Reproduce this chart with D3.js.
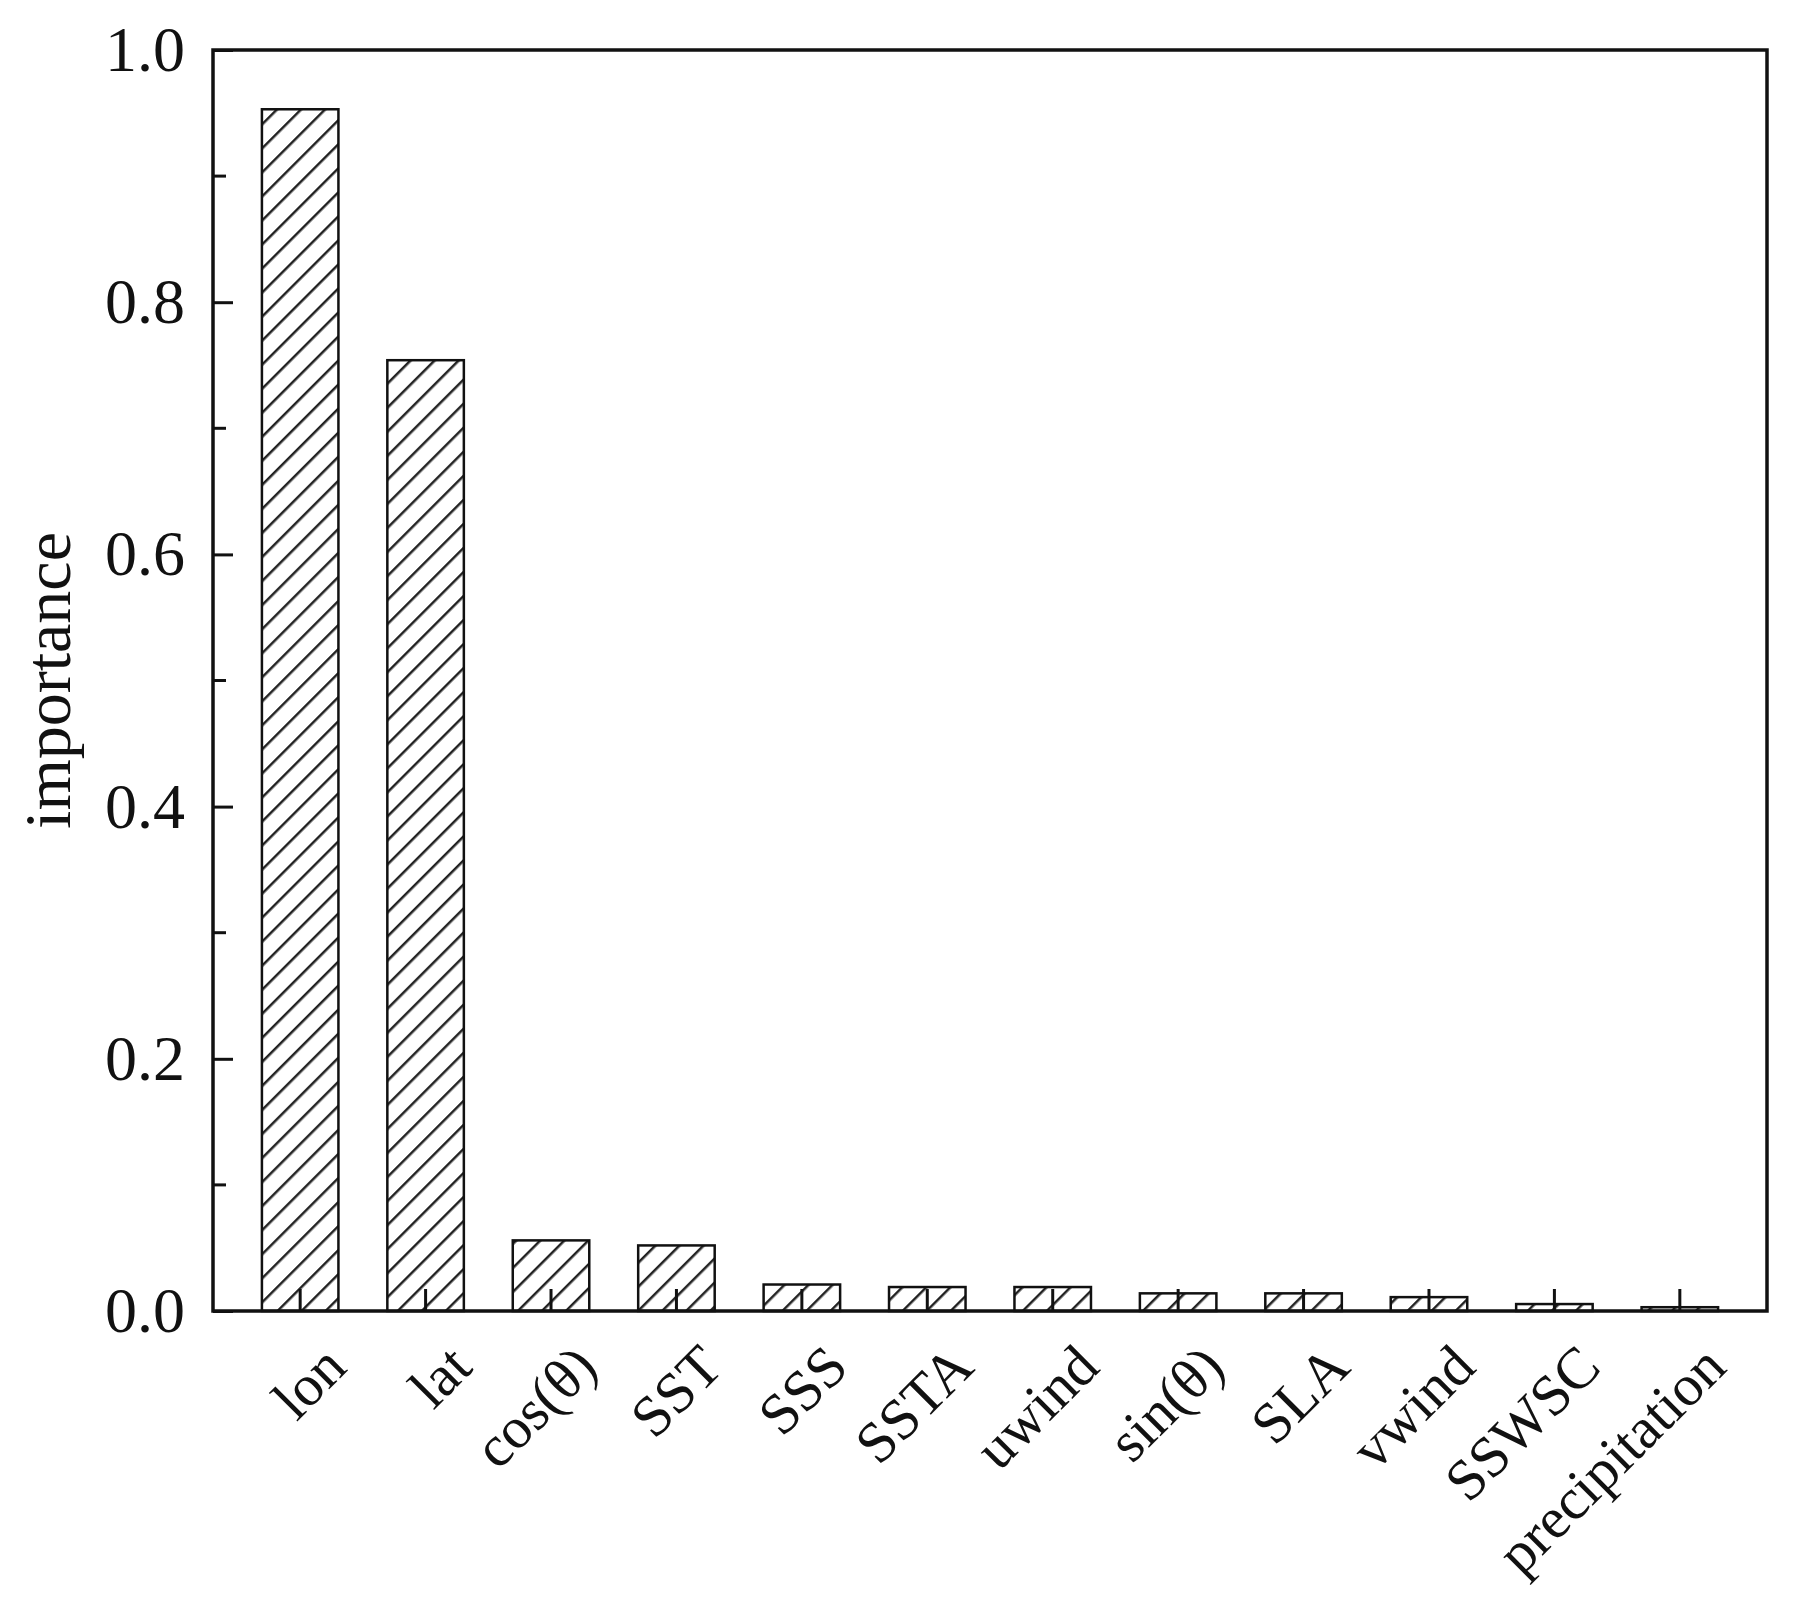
<!DOCTYPE html>
<html>
<head>
<meta charset="utf-8">
<script src="https://cdn.jsdelivr.net/npm/d3@7"></script>
<style>body{margin:0;background:#fff}</style>
</head>
<body>
<svg width="1794" height="1619"></svg>
<script>
var features = ["lon","lat","cos(θ)","SST","SSS","SSTA","uwind","sin(θ)","SLA","vwind","SSWSC","precipitation"];
var importance = [0.953,0.754,0.056,0.052,0.021,0.019,0.019,0.014,0.014,0.011,0.0055,0.003];
var yTicks = [0,0.2,0.4,0.6,0.8,1.0];

var svg = d3.select("svg"),
    pLeft = 213, pRight = 1767, pTop = 50, pBottom = 1311,
    font = "'Liberation Serif','Times New Roman',serif";

var defs = svg.append("defs");
var pat = defs.append("pattern")
    .attr("id", "hatch")
    .attr("patternUnits", "userSpaceOnUse")
    .attr("width", 17).attr("height", 17)
    .attr("patternTransform", "rotate(45)");
pat.append("rect").attr("width", 17).attr("height", 17).attr("fill", "#fff");
pat.append("line")
    .attr("x1", 0).attr("y1", 0).attr("x2", 0).attr("y2", 17)
    .attr("stroke", "#222").attr("stroke-width", 5);

var x = d3.scaleBand().domain(features).range([pLeft, pRight]).padding(0.39);
var y = d3.scaleLinear().domain([0, 1]).range([pBottom, pTop]);

// bars
svg.selectAll(".bar").data(features).enter()
    .append("rect")
    .attr("x", d => x(d))
    .attr("y", (d, i) => y(importance[i]))
    .attr("width", x.bandwidth())
    .attr("height", (d, i) => y(0) - y(importance[i]))
    .attr("fill", "url(#hatch)")
    .attr("stroke", "#111")
    .attr("stroke-width", 2.5);

// inward ticks
var yAxis = d3.axisLeft(y).tickValues(yTicks).tickSize(-20).tickPadding(28)
    .tickFormat(d3.format(".1f"));
var ga = svg.append("g").attr("transform", "translate(" + pLeft + ",0)").call(yAxis);
ga.select(".domain").remove();
ga.selectAll("line").attr("stroke", "#111").attr("stroke-width", 3);
ga.selectAll("text").attr("font-family", font).attr("font-size", 64).attr("fill", "#111")
    .attr("x", 185 - pLeft);

svg.append("g").selectAll("line").data([0.1, 0.3, 0.5, 0.7, 0.9]).enter()
    .append("line")
    .attr("x1", pLeft).attr("x2", pLeft + 13)
    .attr("y1", d => y(d)).attr("y2", d => y(d))
    .attr("stroke", "#111").attr("stroke-width", 3);

svg.append("g").selectAll("line").data(features).enter()
    .append("line")
    .attr("x1", d => x(d) + x.bandwidth() / 2).attr("x2", d => x(d) + x.bandwidth() / 2)
    .attr("y1", pBottom).attr("y2", pBottom - 22)
    .attr("stroke", "#111").attr("stroke-width", 3);

// frame
svg.append("rect")
    .attr("x", pLeft).attr("y", pTop)
    .attr("width", pRight - pLeft).attr("height", pBottom - pTop)
    .attr("fill", "none").attr("stroke", "#111").attr("stroke-width", 3.5);

// x labels
svg.append("g").selectAll("text").data(features).enter()
    .append("text")
    .attr("transform", d => "translate(" + (x(d) + x.bandwidth() / 2 + 20) + "," + (pBottom + 30) + ") rotate(-45)")
    .attr("text-anchor", "end")
    .attr("dy", "0.7em")
    .attr("font-family", font).attr("font-size", 58).attr("fill", "#111")
    .text(d => d);

// y label
svg.append("text")
    .attr("transform", "translate(70," + ((pTop + pBottom) / 2) + ") rotate(-90)")
    .attr("text-anchor", "middle")
    .attr("font-family", font).attr("font-size", 66).attr("fill", "#111")
    .text("importance");
</script>
</body>
</html>
